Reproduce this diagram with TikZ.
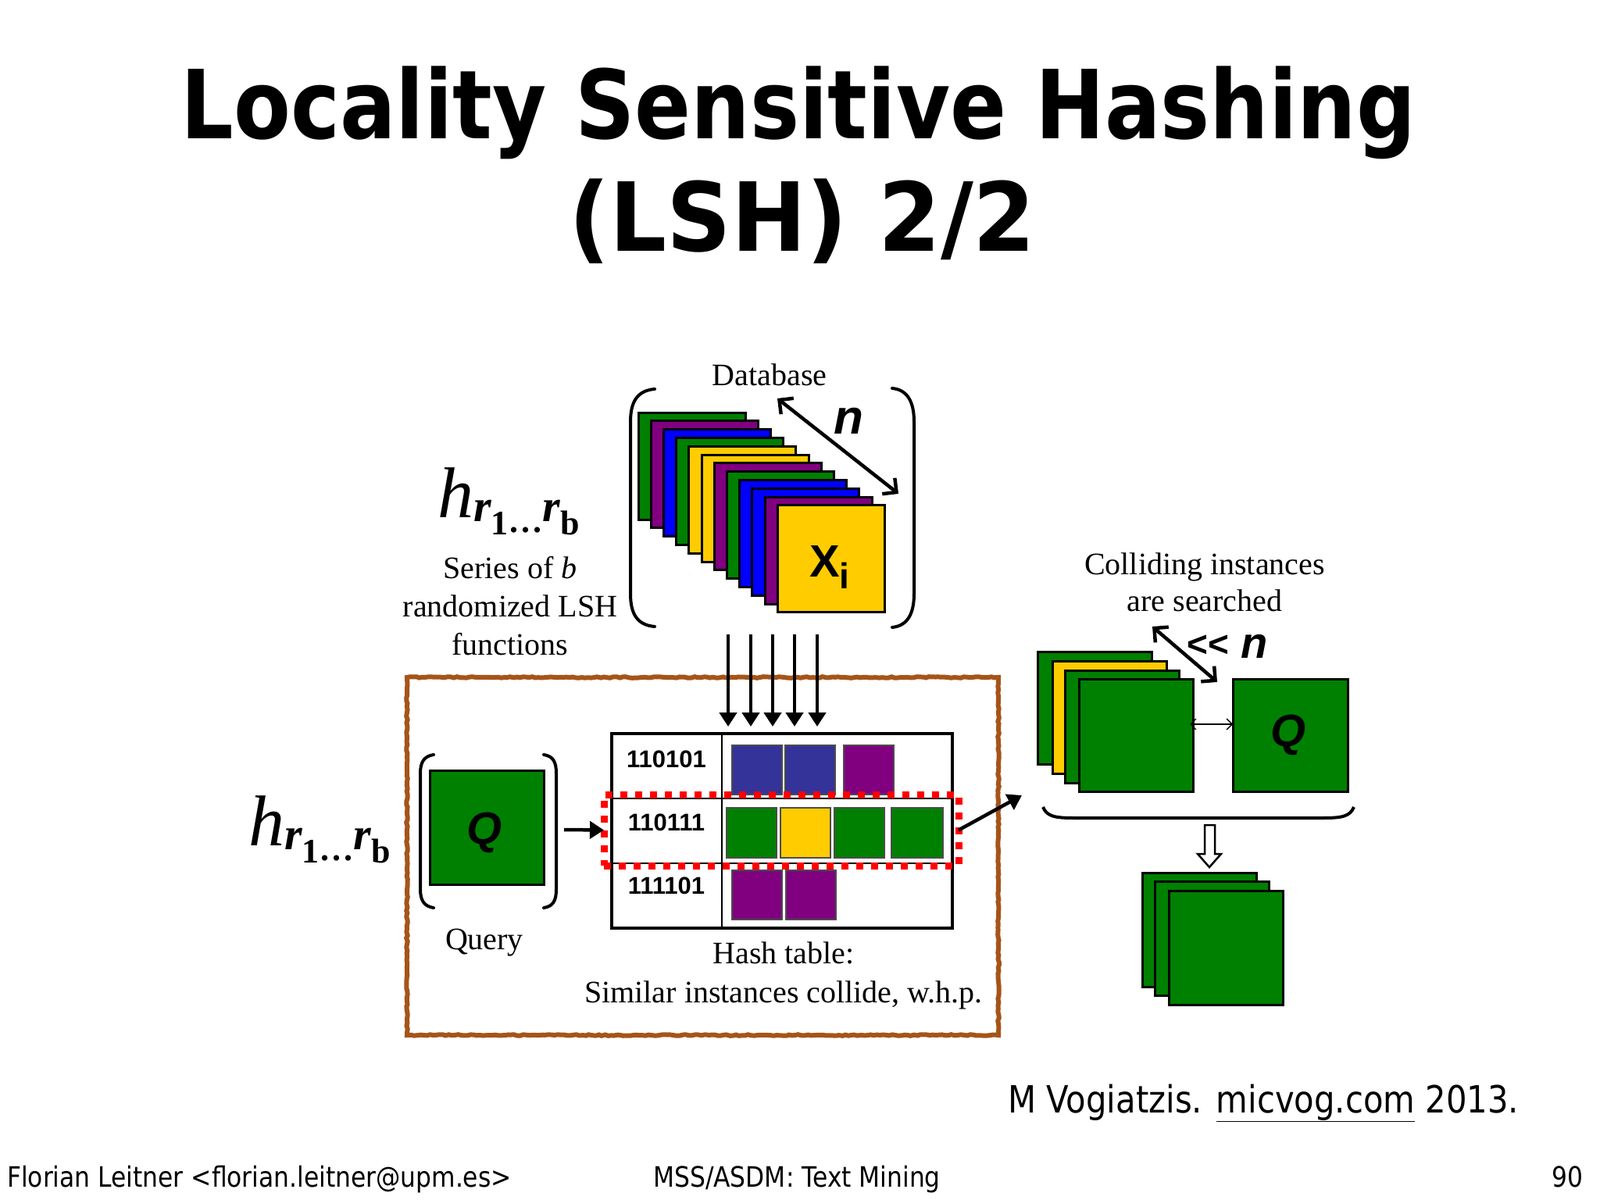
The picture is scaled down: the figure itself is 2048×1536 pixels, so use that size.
\documentclass[tikz,border=0pt]{standalone}
\usepackage{fontspec}
\setmainfont{Liberation Serif}
\newfontfamily\tah[FakeStretch=0.87]{DejaVu Sans}
\newfontfamily\arl{Liberation Sans}
\usetikzlibrary{arrows.meta,calc,decorations.pathmorphing}
\definecolor{cgreen}{RGB}{0,128,0}
\definecolor{cpurple}{RGB}{128,0,128}
\definecolor{cblue}{RGB}{0,0,255}
\definecolor{cyellow}{RGB}{255,204,0}
\definecolor{cdblue}{RGB}{51,51,153}
\definecolor{cbrown}{RGB}{166,84,24}
\definecolor{cred}{RGB}{255,0,0}
\newcommand{\fs}[1]{\fontsize{#1}{#1}\selectfont}
\newcommand{\hrb}{{\itshape\fs{92}h}\raisebox{-5pt}{\bfseries\itshape\fs{58}r}\raisebox{-22pt}{\bfseries\fs{44}1}\kern2pt\raisebox{-19pt}{\bfseries\fs{44}.\kern4pt.\kern4pt.}\kern1pt\raisebox{-5pt}{\bfseries\itshape\fs{58}r}\raisebox{-22pt}{\bfseries\fs{44}b}}
\begin{document}
\begin{tikzpicture}[x=1pt,y=-1pt,
  card/.style={draw=black, line width=3pt, minimum width=137pt, minimum height=137pt, inner sep=0pt, outer sep=0pt, anchor=north west},
  bigcard/.style={card, minimum width=146pt, minimum height=144pt},
  sq/.style={draw=black!70, line width=1.5pt, inner sep=0pt, outer sep=0pt, anchor=north west, minimum width=64pt, minimum height=63pt},
  txt/.style={inner sep=0pt, anchor=base, font=\fs{40}},
  fat/.style={line width=4.5pt, -{Triangle[length=18pt,width=22pt]}},
  dbl/.style={line width=4.5pt, {Straight Barb[length=13pt,width=26pt,line width=4.5pt]}-{Straight Barb[length=13pt,width=26pt,line width=4.5pt]}},
  thinarr/.style={line width=1.3pt, {Straight Barb[length=7pt,width=14pt,line width=1.3pt]}-{Straight Barb[length=7pt,width=14pt,line width=1.3pt]}},
  brk/.style={line width=4pt, line cap=round}
]
\useasboundingbox (0,0) rectangle (2048,1536);
\fill[white] (0,0) rectangle (2048,1536);

% title
\node[inner sep=0pt, anchor=base] (t1) at (1022,178) {\tah\bfseries\fs{122}Locality Sensitive Hashing};
\node[inner sep=0pt, anchor=base] (t2) at (1027,321) {\scalebox{1.08}[1]{\tah\bfseries\fs{122}(LSH) 2/2}};

% database stack
\foreach \c [count=\i from 0] in {cgreen,cpurple,cblue,cgreen,cyellow,cyellow,cpurple,cgreen,cblue,cblue,cpurple,cyellow}
  \node[card, fill=\c] (db\i) at ({817+16.2*\i},{528+10.8*\i}) {};
\node[inner sep=0pt, anchor=base west] (xi) at (1036,738) {\arl\bfseries\fs{58}X\raisebox{-15pt}{\fs{46}i}};
\draw[brk] (838,498) .. controls (815,500) and (807,515) .. (807,540) -- (807,760) .. controls (807,785) and (815,800) .. (838,802);
\draw[brk] (1142,497) .. controls (1162,499) and (1170,515) .. (1170,540) -- (1170,760) .. controls (1170,785) and (1162,801) .. (1142,803);
\node[txt] (dblab) at (985,493) {Database};
\coordinate (na) at (995,510);
\coordinate (nb) at (1150,632);
\draw[dbl] (na) -- (nb);
\node[inner sep=0pt, anchor=base] (nlab) at (1086,555) {\arl\bfseries\itshape\fs{62}n};

% hash function label
\node[inner sep=0pt, anchor=base west] (h1) at (560,662) {\hrb};
\node[txt] (s1) at (653,740) {Series of \textit{b}};
\node[txt] (s2) at (653,789) {randomized LSH};
\node[txt] (s3) at (653,838) {functions};

% brown frame
\draw[cbrown, line width=6pt, decorate, decoration={random steps, segment length=4pt, amplitude=0.8pt}] (521,867) -- (1278,867) -- (1278,1325) -- (521,1325) -- cycle;

% down arrows
\foreach \x [count=\i] in {932,961,989,1017,1046} {
  \coordinate (ds\i) at (\x,812);
  \coordinate (de\i) at (\x,930);
  \draw[fat] (ds\i) -- (de\i);
}

% hash table
\node[draw, line width=3.5pt, inner sep=0pt, outer sep=0pt, anchor=north west, minimum width=436pt, minimum height=249pt] (ht) at (783,939) {};
\draw[line width=2.5pt] (924,939) -- (924,1188);
\draw[line width=2.5pt] (783,1022) -- (1219,1022);
\draw[line width=2.5pt] (783,1105) -- (1219,1105);
\node[sq, fill=cdblue] (a1) at (937,954) {};
\node[sq, fill=cdblue] (a2) at (1005,954) {};
\node[sq, fill=cpurple] (a3) at (1080,954) {};
\node[sq, fill=cgreen, minimum height=64pt] (b1) at (930,1034) {};
\node[sq, fill=cyellow, minimum height=64pt] (b2) at (999,1034) {};
\node[sq, fill=cgreen, minimum height=64pt] (b3) at (1068,1034) {};
\node[sq, fill=cgreen, minimum height=64pt, minimum width=66pt] (b4) at (1141,1034) {};
\node[sq, fill=cpurple] (c1) at (937,1114) {};
\node[sq, fill=cpurple] (c2) at (1006,1114) {};
\node[inner sep=0pt, anchor=base] (k1) at (853,982) {\arl\bfseries\fs{31}110101};
\node[inner sep=0pt, anchor=base] (k2) at (853,1063) {\arl\bfseries\fs{31}110111};
\node[inner sep=0pt, anchor=base] (k3) at (853,1144) {\arl\bfseries\fs{31}111101};
\node[draw=cred, line width=9pt, dash pattern=on 9pt off 10pt, inner sep=0pt, outer sep=0pt, anchor=north west, minimum width=454pt, minimum height=91pt] (sel) at (773,1017) {};
\node[txt] (ht1) at (1003,1233) {Hash table:};
\node[txt] (ht2) at (1003,1283) {Similar instances collide, w.h.p.};

% query
\node[inner sep=0pt, anchor=base west] (h2) at (318,1082) {\hrb};
\node[card, fill=cgreen, minimum width=146pt, minimum height=146pt] (q) at (550,986) {};
\node[inner sep=0pt, anchor=base] (qlab) at (620,1080) {\arl\bfseries\itshape\fs{58}Q};
\draw[brk] (555,966) .. controls (543,968) and (538,975) .. (538,990) -- (538,1138) .. controls (538,1153) and (543,1160) .. (555,1162);
\draw[brk] (696,966) .. controls (708,968) and (712,975) .. (712,990) -- (712,1138) .. controls (712,1153) and (708,1160) .. (696,1162);
\node[txt] (qtxt) at (620,1215) {Query};
\coordinate (qa) at (722,1062);
\draw[fat] (qa) -- (sel.west);
\coordinate (outtip) at (1308,1018);
\draw[fat] (sel.east) -- (outtip);

% right side
\node[txt] (col1) at (1542,735) {Colliding instances};
\node[txt] (col2) at (1542,782) {are searched};
\node[bigcard, fill=cgreen] (r1) at (1328,834) {};
\node[bigcard, fill=cyellow] (r2) at (1347,846) {};
\node[bigcard, fill=cgreen] (r3) at (1363,858) {};
\node[bigcard, fill=cgreen] (r4) at (1381,869) {};
\node[bigcard, fill=cgreen, minimum width=147pt] (qr) at (1578,869) {};
\node[inner sep=0pt, anchor=base] (qrlab) at (1649,955) {\arl\bfseries\itshape\fs{58}Q};
\coordinate (sa) at (1523,927);
\coordinate (sb) at (1578,927);
\draw[thinarr] (sa) -- (sb);
\coordinate (la) at (1475,802);
\coordinate (lb) at (1558,873);
\draw[dbl] (la) -- (lb);
\node[inner sep=0pt, anchor=base west] (ll) at (1519,840) {\arl\bfseries\fs{46}<<};
\node[inner sep=0pt, anchor=base west] (ln) at (1588,842) {\arl\bfseries\itshape\fs{56}n};
\draw[line width=4pt] (1335,1033) .. controls (1340,1045) and (1350,1047) .. (1375,1047) -- (1693,1047) .. controls (1718,1047) and (1728,1045) .. (1733,1033);
\draw[line width=2.5pt, fill=white, line join=miter] (1542,1056) -- (1555,1056) -- (1555,1093) -- (1563,1093) -- (1548,1110) -- (1533,1093) -- (1542,1093) -- cycle;
\node[card, fill=cgreen, minimum width=146pt, minimum height=146pt] (f1) at (1462,1117) {};
\node[card, fill=cgreen, minimum width=146pt, minimum height=146pt] (f2) at (1478,1128) {};
\node[card, fill=cgreen, minimum width=146pt, minimum height=146pt] (f3) at (1496,1140) {};

% citation and footer
\node[inner sep=0pt, anchor=base west] (cite) at (1290,1424) {\tah\fs{48}M Vogiatzis. \underline{micvog.com} 2013.};
\node[inner sep=0pt, anchor=base west] (ft1) at (9,1519) {\tah\fs{36}Florian Leitner <florian.leitner@upm.es>};
\node[inner sep=0pt, anchor=base west] (ft2) at (836,1519) {\tah\fs{36}MSS/ASDM: Text Mining};
\node[inner sep=0pt, anchor=base east] (ft3) at (2027,1519) {\tah\fs{36}90};
\end{tikzpicture}
\end{document}
